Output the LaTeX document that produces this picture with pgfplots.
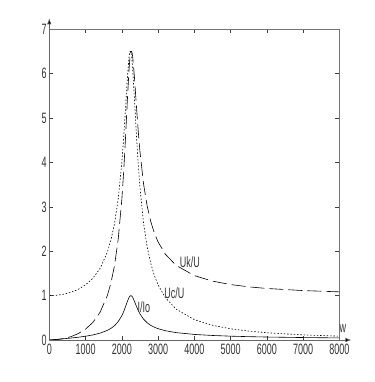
\documentclass[border=0pt]{standalone}
\usepackage{pgfplots}
\pgfplotsset{compat=1.18}
\usepackage{fontspec}
\setmainfont{Liberation Sans}
\usetikzlibrary{arrows.meta}
\newcommand\nar[1]{\scalebox{0.6}[1]{#1}}

\pgfplotstableread{
w     uc      uk      i
0     1.0000  0.0000  0.0000
200   1.0079  0.0080  0.0138
400   1.0322  0.0326  0.0282
600   1.0755  0.0765  0.0441
800   1.1425  0.1444  0.0625
1000  1.2417  0.2453  0.0849
1200  1.3884  0.3949  0.1139
1400  1.6122  0.6242  0.1543
1600  1.9752  0.9988  0.2161
1700  2.2492  1.2840  0.2615
1800  2.6284  1.6822  0.3235
1900  3.1750  2.2641  0.4125
2000  3.9920  3.1542  0.5459
2050  4.5405  3.7692  0.6364
2100  5.1826  4.5147  0.7442
2150  5.8555  5.3466  0.8608
2200  6.3808  6.1004  0.9599
2225  6.5048  6.3611  0.9896
2250  6.5000  6.5000  1.0000
2275  6.3633  6.5056  0.9899
2300  6.1140  6.3887  0.9615
2350  5.4171  5.9093  0.8705
2400  4.6670  5.3100  0.7659
2450  3.9987  4.7412  0.6699
2500  3.4453  4.2535  0.5889
2600  2.6349  3.5184  0.4684
2700  2.0957  3.0178  0.3869
2800  1.7209  2.6651  0.3295
2900  1.4486  2.4064  0.2872
3000  1.2432  2.2102  0.2550
3200  0.9562  1.9340  0.2092
3500  0.6946  1.6806  0.1662
4000  0.4592  1.4513  0.1256
4500  0.3316  1.3264  0.1020
5000  0.2530  1.2492  0.0865
5500  0.2004  1.1976  0.0754
6000  0.1633  1.1610  0.0670
7000  0.1151  1.1135  0.0551
8000  0.0858  1.0847  0.0469
}\datatable

\begin{document}
\begin{tikzpicture}[x=1pt,y=1pt]
\begin{axis}[at={(0,0)}, anchor=south west, scale only axis,
  width=290pt, height=310.7pt,
  xmin=0, xmax=8000, ymin=0, ymax=7,
  xtick={0,1000,...,8000}, ytick={0,1,...,7},
  tick align=inside, major tick length=4pt,
  axis line style={black!55, line width=0.6pt},
  tick style={black!75, line width=0.5pt},
  /pgf/number format/assume math mode=true,
  xticklabel={\nar{\pgfmathprintnumber[1000 sep={}]{\tick}}},
  yticklabel={\nar{\pgfmathprintnumber{\tick}}},
  tick label style={font=\fontsize{15}{15}\selectfont, text=black!80},
  xticklabel style={inner sep=3.5pt},
  yticklabel style={inner sep=2.5pt},
  clip=false]
\addplot[black, line width=0.6pt, dash pattern=on 1.5pt off 1.8pt] table[x=w,y=uc] {\datatable};
\addplot[black, line width=0.6pt, dash pattern=on 14pt off 5pt] table[x=w,y=uk] {\datatable};
\addplot[black, line width=0.6pt] table[x=w,y=i] {\datatable};
\node[font=\fontsize{15}{15}\selectfont, text=black!80] at (axis cs:3881,1.76) {\nar{Uk/U}};
\node[font=\fontsize{15}{15}\selectfont, text=black!80] at (axis cs:3450,1.06) {\nar{Uc/U}};
\node[font=\fontsize{15}{15}\selectfont, text=black!80] at (axis cs:2612,0.74) {\nar{I/Io}};
\node[font=\fontsize{15}{15}\selectfont, text=black!80] at (axis cs:8102,0.25) {\nar{w}};
\end{axis}
\draw[black!60, line width=0.6pt, -{Latex[length=6pt,width=4.5pt,fill=black]}] (0,0) -- (0,321.7);
\draw[black!60, line width=0.6pt, -{Latex[length=6pt,width=4.5pt,fill=black]}] (0,0) -- (302,0);
\path (-49.3,-42) rectangle (324.7,340);
\end{tikzpicture}
\end{document}
